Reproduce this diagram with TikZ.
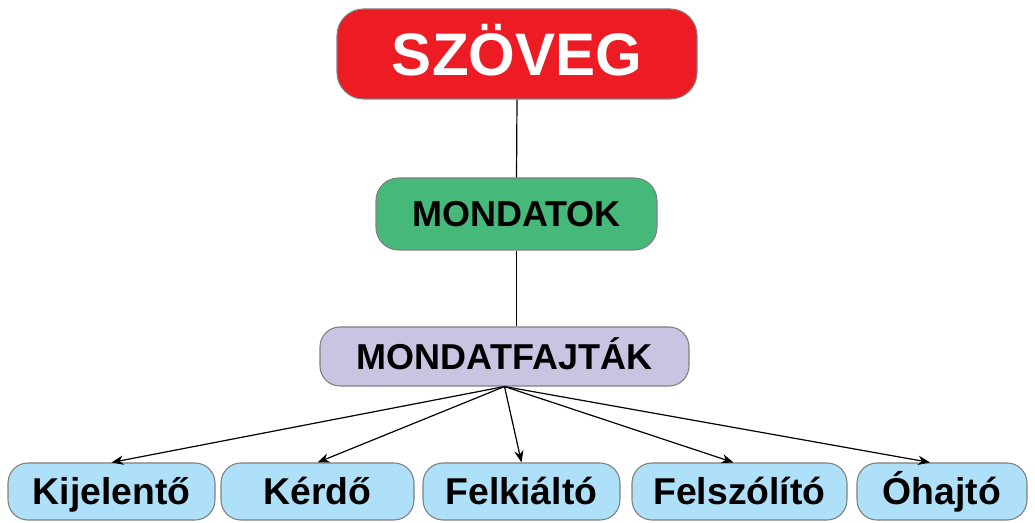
\documentclass[tikz,border=0pt]{standalone}
\usepackage{fontspec}
\setmainfont{Liberation Sans}
\usepackage{tikz}
\usetikzlibrary{arrows.meta}
\definecolor{szovegred}{HTML}{ED1C24}
\definecolor{mondatgreen}{HTML}{46B97A}
\definecolor{fajtalila}{HTML}{C9C4E1}
\definecolor{tipuskek}{HTML}{AEE0F9}
\definecolor{keret}{HTML}{7F7F7F}
\begin{document}
\begin{tikzpicture}[x=0.75pt,y=-0.75pt,
    doboz/.style={draw=keret,line width=0.8pt,inner sep=0pt,font=\bfseries\fontsize{27}{30}\selectfont,text height=19.3pt,text depth=0pt},
    tipus/.style={doboz,fill=tipuskek,rounded corners=15pt,minimum height=42.75pt,font=\bfseries\fontsize{28}{31}\selectfont,text height=20pt},
    nyil/.style={-{Stealth[length=9pt,width=7pt]},line width=0.9pt}]
  \useasboundingbox (0,0) rectangle (1035,523);
  \node[doboz,fill=szovegred,text=white,rounded corners=20pt,minimum width=270pt,minimum height=67.5pt,font=\bfseries\fontsize{45}{50}\selectfont,text height=32.2pt] (szoveg) at (517,54) {SZÖVEG};
  \node[doboz,fill=mondatgreen,rounded corners=17pt,minimum width=210.75pt,minimum height=54pt] (mondatok) at (516.5,214) {MONDATOK};
  \node[doboz,fill=fajtalila,rounded corners=15pt,minimum width=276.75pt,minimum height=44.25pt] (fajtak) at (504.5,356.5) {MONDATFAJTÁK};
  \node[tipus,minimum width=155.25pt] (kijelento) at (111.5,491.5) {Kijelentő};
  \node[tipus,minimum width=144.75pt] (kerdo) at (317.5,491.5) {Kérdő};
  \node[tipus,minimum width=147.75pt] (felkialto) at (521.5,491.5) {Felkiáltó};
  \node[tipus,minimum width=161.25pt] (felszolito) at (739.5,491.5) {Felszólító};
  \node[tipus,minimum width=127.5pt] (ohajto) at (942,491.5) {Óhajtó};
  % vonalak
  \draw[line width=0.9pt] (szoveg.south) -- (mondatok.north);
  \draw[line width=0.9pt] (mondatok.south) -- (mondatok.south |- fajtak.north);
  \foreach \cel/\eltol in {kijelento/0,kerdo/0,felkialto/0,felszolito/-4.5,ohajto/-9}
    \draw[nyil] (fajtak.south) -- ([xshift=\eltol pt]\cel.north);
\end{tikzpicture}
\end{document}
